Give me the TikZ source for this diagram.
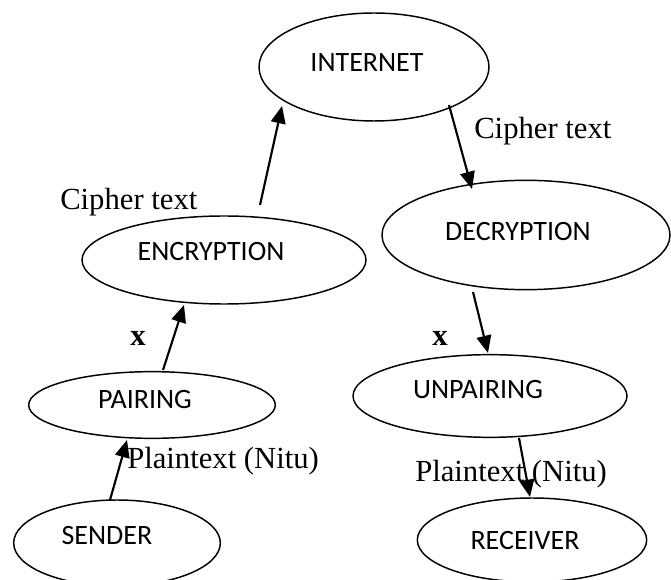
\documentclass[tikz,border=0pt]{standalone}
\usepackage{fontspec}
\setmainfont{Liberation Serif}
\newfontfamily\ovalfont{Carlito}
\usetikzlibrary{shapes.geometric,arrows.meta,calc}

\tikzset{
  oval/.style={ellipse, draw, line width=1.1pt, inner sep=0pt, outer sep=0pt},
  ovaltext/.style={font=\ovalfont\fontsize{21pt}{25pt}\selectfont},
  arr/.style={line width=1.6pt, -{Triangle[length=13pt,width=11pt]}},
  note/.style={font=\fontsize{23pt}{27pt}\selectfont, inner sep=0pt, anchor=west},
  mark x/.style={font=\bfseries\fontsize{23pt}{27pt}\selectfont, inner sep=0pt}
}

\begin{document}
\begin{tikzpicture}[x=0.75pt,y=-0.75pt]
  \clip (0,0) rectangle (671,580);
  \useasboundingbox (0,0) rectangle (671,580);

  % process stages
  \node[oval, minimum width=172.5pt, minimum height=81pt,
        label={[ovaltext, xshift=-5.25pt, yshift=3pt]center:INTERNET}] (inet) at (374,67) {};
  \node[oval, minimum width=213pt, minimum height=66pt,
        label={[ovaltext, xshift=-9.75pt, yshift=6pt]center:ENCRYPTION}] (enc) at (224,260) {};
  \node[oval, minimum width=185pt, minimum height=50pt,
        label={[ovaltext, xshift=-5.25pt, yshift=3.75pt]center:PAIRING}] (pair) at (152,405) {};
  \node[oval, minimum width=155pt, minimum height=64.5pt,
        label={[ovaltext, xshift=-7.5pt, yshift=5.25pt]center:SENDER}] (send) at (117,543) {};
  \node[oval, minimum width=216pt, minimum height=82pt,
        label={[ovaltext, xshift=-6pt, yshift=2.25pt]center:DECRYPTION}] (dec) at (526,235) {};
  \node[oval, minimum width=205.5pt, minimum height=62pt,
        label={[ovaltext, xshift=-9pt, yshift=4.5pt]center:UNPAIRING}] (unp) at (490,396) {};
  \node[oval, minimum width=172pt, minimum height=63pt,
        label={[ovaltext, xshift=-5.25pt, yshift=-0.75pt]center:RECEIVER}] (rec) at (532,540) {};

  % data flow
  \draw[arr] ($(send)+(-7,-43)$) -- ($(pair)+(-25,35)$);
  \draw[arr] ($(pair)+(11,-35)$) -- ($(enc)+(-40,45)$);
  \draw[arr] ($(enc)+(36,-55)$) -- ($(inet)+(-92,39)$);
  \draw[arr] ($(inet)+(75,38)$) -- ($(dec)+(-54,-46)$);
  \draw[arr] ($(dec)+(-53,57)$) -- ($(unp)+(-2,-43)$);
  \draw[arr] ($(unp)+(29,42)$) -- ($(rec)+(-2,-43)$);

  % annotations
  \node[note] (c1) at (60,202) {Cipher text};
  \node[note] (c2) at (474,131) {Cipher text};
  \node[note] (p1) at (127,461) {Plaintext (Nitu)};
  \node[note] (p2) at (415,474) {Plaintext (Nitu)};
  \node[mark x] (x1) at (138,338) {x};
  \node[mark x] (x2) at (440,338) {x};
\end{tikzpicture}
\end{document}
